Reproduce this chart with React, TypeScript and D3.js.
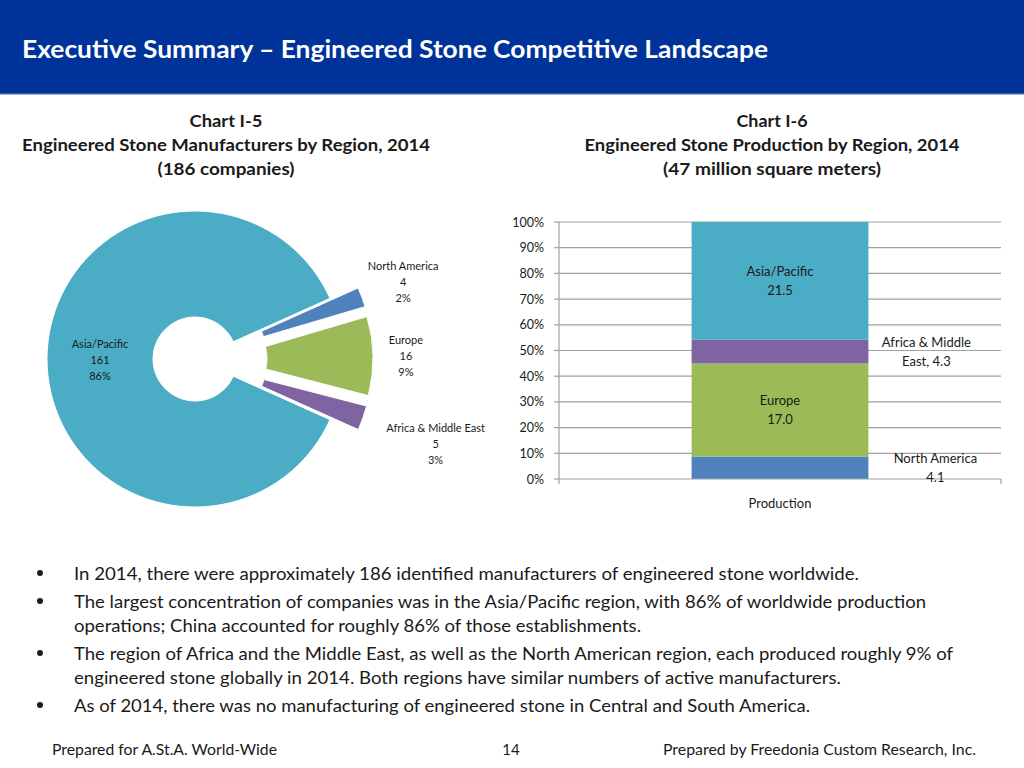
import React from 'react';
import * as d3 from 'd3';

// ---------- Data ----------
const pieRegions = ['North America', 'Europe', 'Africa & Middle East', 'Asia/Pacific'];
const pieCompanies = [4, 16, 5, 161];
const piePercents = ['2%', '9%', '3%', '86%'];
const pieExploded = [true, true, true, false];

const barCategories = ['Production'];
const barRegions = ['North America', 'Europe', 'Africa & Middle East', 'Asia/Pacific'];
const barProduction = [4.1, 17.0, 4.3, 21.5];
const barLabelLines = [['North America', '4.1'], ['Europe', '17.0'], ['Africa & Middle', 'East, 4.3'], ['Asia/Pacific', '21.5']];
const barLabelInside = [false, true, false, true];

const yTicks = [0, 0.1, 0.2, 0.3, 0.4, 0.5, 0.6, 0.7, 0.8, 0.9, 1.0];

const headerTitle = 'Executive Summary \u2013 Engineered Stone Competitive Landscape';
const leftTitle = ['Chart I-5', 'Engineered Stone Manufacturers by Region, 2014', '(186 companies)'];
const rightTitle = ['Chart I-6', 'Engineered Stone Production by Region, 2014', '(47 million square meters)'];
const bullets = [
  ['In 2014, there were approximately 186 identified manufacturers of engineered stone worldwide.'],
  ['The largest concentration of companies was in the Asia/Pacific region, with 86% of worldwide production', 'operations; China accounted for roughly 86% of those establishments.'],
  ['The region of Africa and the Middle East, as well as the North American region, each produced roughly 9% of', 'engineered stone globally in 2014. Both regions have similar numbers of active manufacturers.'],
  ['As of 2014, there was no manufacturing of engineered stone in Central and South America.'],
];
const footerLeft = 'Prepared for A.St.A. World-Wide';
const footerPage = '14';
const footerRight = 'Prepared by Freedonia Custom Research, Inc.';

// ---------- Styles ----------
const colors: Record<string, string> = {
  'North America': '#4F81BD',
  'Europe': '#9BBB59',
  'Africa & Middle East': '#8064A2',
  'Asia/Pacific': '#4BACC6',
};
const FONT = 'Lato, "Open Sans", "DejaVu Sans", sans-serif';
const TEXT = '#1a1a1a';

export default function App() {
  // ----- Pie -----
  const cx = 195, cy = 359, rOuter = 148, rInner = 42, explode = 30;
  const total = d3.sum(pieCompanies);
  const smallSum = d3.sum(pieCompanies.filter((_, i) => pieExploded[i]));
  const a0 = Math.PI / 2 - (smallSum / total) * Math.PI;
  const pieGen = d3.pie<number>().sort(null).value((d) => d).startAngle(a0).endAngle(a0 + 2 * Math.PI);
  const arcs = pieGen(pieCompanies);
  const arcGen = d3.arc<d3.PieArcDatum<number>>().innerRadius(rInner).outerRadius(rOuter);
  const pieLabelRadius = [222, 211, 255, 0];

  // ----- Bar -----
  const plotLeft = 559, plotRight = 1001, plotTop = 222, plotBottom = 479;
  const x = d3.scaleBand<string>().domain(barCategories).range([plotLeft, plotRight]).paddingInner(0.4286).paddingOuter(0.4286);
  const y = d3.scaleLinear().domain([0, 1]).range([plotBottom, plotTop]);
  const barTotal = d3.sum(barProduction);
  const stackData = [Object.fromEntries(barRegions.map((r, i) => [r, barProduction[i] / barTotal]))];
  const stack = d3.stack<any>().keys(barRegions)(stackData as any);
  const bx = x('Production') as number;
  const bw = x.bandwidth();
  const outsideOffset = [67, 0, 58, 0];

  return (
    <svg width={1024} height={768} style={{ position: 'absolute', left: 0, top: 0, background: '#fff' }} fontFamily={FONT}>
      {/* Header */}
      <rect x={0} y={0} width={1024} height={93} fill="#003399" />
      <rect x={0} y={93} width={1024} height={1.5} fill="#3a5ea8" />
      <text x={22} y={48} fill="#fff" fontSize={24} fontWeight={700} dominantBaseline="central" textLength={746} lengthAdjust="spacingAndGlyphs">{headerTitle}</text>

      {/* Chart titles */}
      {leftTitle.map((t, i) => (
        <text key={'lt' + i} x={226} y={120 + i * 24} textAnchor="middle" dominantBaseline="central" fontSize={17} fontWeight={700} fill={TEXT}
          textLength={[73, 408, 137][i]} lengthAdjust="spacingAndGlyphs">{t}</text>
      ))}
      {rightTitle.map((t, i) => (
        <text key={'rt' + i} x={772} y={120 + i * 24} textAnchor="middle" dominantBaseline="central" fontSize={17} fontWeight={700} fill={TEXT}
          textLength={[71, 375, 218][i]} lengthAdjust="spacingAndGlyphs">{t}</text>
      ))}

      {/* Pie / doughnut */}
      <g>
        {arcs.map((a, i) => {
          const mid = (a.startAngle + a.endAngle) / 2;
          const off = pieExploded[i] ? explode : 0;
          const tx = cx + off * Math.sin(mid);
          const ty = cy - off * Math.cos(mid);
          return <path key={'arc' + i} d={arcGen(a) as string} transform={`translate(${tx},${ty})`} fill={colors[pieRegions[i]]} stroke="#fff" strokeWidth={1} />;
        })}
        {arcs.map((a, i) => {
          const mid = (a.startAngle + a.endAngle) / 2;
          let lx: number, ly: number;
          if (pieLabelRadius[i] === 0) {
            const c = arcGen.centroid(a);
            lx = cx + c[0];
            ly = cy + c[1];
          } else {
            lx = cx + pieLabelRadius[i] * Math.sin(mid);
            ly = cy - pieLabelRadius[i] * Math.cos(mid);
          }
          const lines = [pieRegions[i], String(pieCompanies[i]), piePercents[i]];
          return (
            <g key={'pl' + i}>
              {lines.map((l, j) => (
                <text key={j} x={lx} y={ly + (j - 1) * 16} textAnchor="middle" dominantBaseline="central" fontSize={11} fill={TEXT}>{l}</text>
              ))}
            </g>
          );
        })}
      </g>

      {/* Bar chart */}
      <g>
        {yTicks.map((t) => (
          <g key={'yt' + t}>
            {t > 0 && <line x1={plotLeft} x2={plotRight} y1={y(t)} y2={y(t)} stroke="#a0a0a0" strokeWidth={1.2} />}
            <line x1={plotLeft - 5} x2={plotLeft} y1={y(t)} y2={y(t)} stroke="#a0a0a0" strokeWidth={1.2} />
            <text x={544} y={y(t)} textAnchor="end" dominantBaseline="central" fontSize={12.5} fill={TEXT}>{d3.format('.0%')(t)}</text>
          </g>
        ))}
        <line x1={plotLeft} x2={plotLeft} y1={plotTop} y2={plotBottom} stroke="#a0a0a0" strokeWidth={1.2} />
        {stack.map((s, i) => (
          <rect key={'bar' + i} x={bx} width={bw} y={y(s[0][1])} height={y(s[0][0]) - y(s[0][1])} fill={colors[barRegions[i]]} />
        ))}
        <line x1={plotLeft} x2={plotRight} y1={plotBottom} y2={plotBottom} stroke="#a0a0a0" strokeWidth={1.2} />
        <line x1={plotLeft} x2={plotLeft} y1={plotBottom} y2={plotBottom + 5} stroke="#a0a0a0" strokeWidth={1.2} />
        <line x1={plotRight} x2={plotRight} y1={plotBottom} y2={plotBottom + 5} stroke="#a0a0a0" strokeWidth={1.2} />
        <text x={bx + bw / 2} y={503} textAnchor="middle" dominantBaseline="central" fontSize={13} fill={TEXT}>{barCategories[0]}</text>
        {stack.map((s, i) => {
          const midY = y((s[0][0] + s[0][1]) / 2);
          const lx = barLabelInside[i] ? bx + bw / 2 : bx + bw + outsideOffset[i];
          return (
            <g key={'bl' + i}>
              {barLabelLines[i].map((l, j) => (
                <text key={j} x={lx} y={midY + (j - 0.5) * 19} textAnchor="middle" dominantBaseline="central" fontSize={13} fill={TEXT}>{l}</text>
              ))}
            </g>
          );
        })}
      </g>

      {/* Bullets */}
      {(() => {
        const lineYs = [[573], [601, 625], [653, 677], [705]];
        const widths = [[785], [852, 567], [879, 767], [736]];
        return bullets.map((b, i) => (
          <g key={'b' + i}>
            <circle cx={40} cy={lineYs[i][0]} r={3} fill={TEXT} />
            {b.map((l, j) => (
              <text key={j} x={74} y={lineYs[i][j]} dominantBaseline="central" fontSize={18} fill={TEXT} textLength={widths[i][j]} lengthAdjust="spacingAndGlyphs">{l}</text>
            ))}
          </g>
        ));
      })()}

      {/* Footer */}
      <text x={52} y={749} dominantBaseline="central" fontSize={15} fill={TEXT} textLength={225} lengthAdjust="spacingAndGlyphs">{footerLeft}</text>
      <text x={511} y={749} textAnchor="middle" dominantBaseline="central" fontSize={15} fill={TEXT}>{footerPage}</text>
      <text x={976} y={749} textAnchor="end" dominantBaseline="central" fontSize={15} fill={TEXT} textLength={313} lengthAdjust="spacingAndGlyphs">{footerRight}</text>
    </svg>
  );
}
